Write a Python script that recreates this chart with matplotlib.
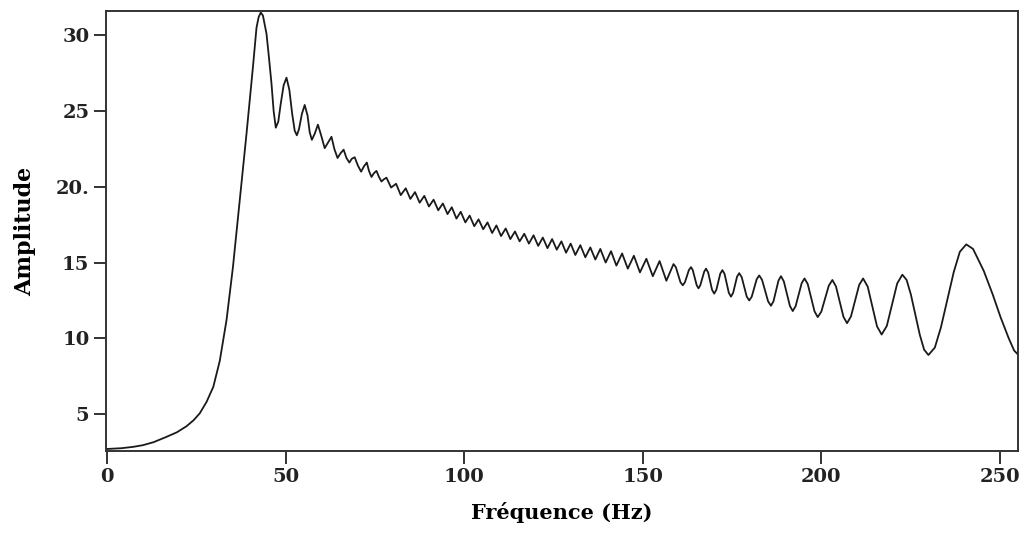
import matplotlib
matplotlib.use('Agg')
from matplotlib import pyplot as plt

# spectrum (Hz, amplitude)
freq = [0, 4, 7.3, 10, 13, 16.6, 19.5, 22.2, 24.2, 25.9, 27.8, 29.7, 31.5, 33.4, 35.2, 37.1,
        39.0, 40.8, 41.8, 42.4, 43.0, 43.6, 44.6, 45.3, 46.0, 46.6, 47.2, 47.9, 48.6, 49.4,
        50.2, 51.0, 51.8, 52.5, 53.1, 53.7, 54.5, 55.3, 56.1, 56.7, 57.3, 58.1, 59.0, 59.9,
        60.9, 61.8, 62.8, 63.6, 64.5, 65.3, 66.2, 67.0, 67.8, 68.5, 69.3, 70.2, 71.1, 71.9,
        72.7, 73.3, 74.0, 74.7, 75.4, 76.1, 76.8, 77.5, 78.2,
        79.5, 80.9, 82.2, 83.6, 84.9, 86.2, 87.5, 88.8, 90.1, 91.4, 92.7, 94.0, 95.3, 96.5,
        97.8, 99.0, 100.3, 101.5, 102.8, 104.0, 105.3, 106.5, 107.8, 109.0, 110.3,
        111.6, 112.9, 114.2, 115.5, 116.8, 118.1, 119.4, 120.7, 122.0, 123.3, 124.6, 125.9,
        127.2, 128.5, 129.8, 131.1, 132.5, 133.9, 135.3, 136.7, 138.1, 139.6, 141.1, 142.6,
        144.2, 145.8, 147.5, 149.2, 151.0, 152.8, 154.7, 156.6, 158.6,
        159.25, 160.55, 161.2, 161.8, 162.9, 163.5, 164.0, 165.1, 165.6, 166.1, 167.2, 167.7,
        168.3, 169.4, 170.0, 170.6, 171.7, 172.3, 172.9, 174.1, 174.7, 175.3, 176.4, 177.0,
        177.7, 179.1, 179.8, 180.5, 181.9, 182.6, 183.4, 185.1, 185.9, 186.6, 188.0, 188.7,
        189.5, 191.2, 192.0, 192.8, 194.5, 195.3, 196.2, 197.15, 198.1, 199.0, 200.0, 201.05,
        202.1, 203.1, 204.1, 205.15, 206.2, 207.2, 208.3, 209.45, 210.6, 211.7, 213.0, 214.3,
        215.6, 216.9, 218.35, 219.8, 221.25, 222.7, 223.9, 225.1, 226.35, 227.6, 228.8, 230.0,
        231.8, 233.5, 235.3, 237.1, 238.8, 240.6, 242.5, 245.5, 248.0, 250.2, 252.5, 254.0,
        255.0]
amp = [2.7, 2.75, 2.84, 2.95, 3.15, 3.5, 3.8, 4.2, 4.6, 5.05, 5.8, 6.8, 8.5, 11.2, 14.7, 19.1,
       23.5, 27.9, 30.5, 31.2, 31.5, 31.3, 30.1, 28.5, 26.8, 25.0, 23.9, 24.3, 25.5, 26.7,
       27.2, 26.4, 24.8, 23.7, 23.4, 23.8, 24.8, 25.4, 24.7, 23.6, 23.1, 23.5, 24.1, 23.4,
       22.55, 22.9, 23.3, 22.5, 21.9, 22.2, 22.45, 21.9, 21.6, 21.85, 21.95, 21.4, 21.0, 21.35,
       21.6, 21.05, 20.65, 20.9, 21.05, 20.65, 20.35, 20.5, 20.6,
       19.95, 20.2, 19.45, 19.9, 19.2, 19.65, 18.95, 19.4, 18.7, 19.15, 18.45, 18.9, 18.2, 18.65,
       17.9, 18.35, 17.65, 18.1, 17.4, 17.85, 17.2, 17.65, 16.95, 17.45, 16.75,
       17.25, 16.55, 17.05, 16.4, 16.9, 16.25, 16.8, 16.1, 16.65, 15.95, 16.55, 15.85,
       16.4, 15.65, 16.25, 15.5, 16.15, 15.35, 16.0, 15.2, 15.9, 15.0, 15.75, 14.8,
       15.6, 14.6, 15.45, 14.35, 15.25, 14.1, 15.1, 13.8, 14.9,
       14.7, 13.7, 13.5, 13.7, 14.5, 14.7, 14.5, 13.5, 13.3, 13.5, 14.4, 14.6,
       14.35, 13.2, 12.95, 13.2, 14.27, 14.5, 14.25, 13.0, 12.75, 13.0, 14.07, 14.3,
       14.04, 12.76, 12.5, 12.74, 13.9, 14.15, 13.86, 12.44, 12.15, 12.44, 13.81, 14.1,
       13.76, 12.14, 11.8, 12.12, 13.64, 13.95, 13.58, 12.68, 11.78, 11.4, 11.76, 12.62,
       13.48, 13.85, 13.43, 12.42, 11.42, 11.0, 11.44, 12.48, 13.52, 13.95, 13.41, 12.1,
       10.79, 10.25, 10.82, 12.22, 13.62, 14.2, 13.85, 12.88, 11.55, 10.22, 9.25, 8.9,
       9.39, 10.72, 12.55, 14.38, 15.71, 16.2, 15.9, 14.45, 12.9, 11.4, 10.0, 9.2,
       8.95]

x_ticks = [0, 50, 100, 150, 200, 250]
y_ticks = [5, 10, 15, 20, 25, 30]
y_tick_labels = ['5', '10', '15', '20.', '25', '30']

plt.rcParams['font.family'] = ['DejaVu Serif']

fig = plt.figure(figsize=(10.25, 5.37), dpi=100)
ax = fig.add_axes([0.1034, 0.160, 0.8898, 0.8195])

ax.plot(freq, amp, color='#1a1a1a', linewidth=1.3)

ax.set_xlim(-0.36, 255.1)
ax.set_ylim(2.56, 31.6)
ax.set_xticks(x_ticks)
ax.set_yticks(y_ticks)
ax.set_yticklabels(y_tick_labels)
ax.tick_params(direction='out', length=9, width=1.3, colors='#222222',
               labelsize=14, pad=3)
for lab in ax.get_xticklabels() + ax.get_yticklabels():
    lab.set_fontweight('bold')
for s in ax.spines.values():
    s.set_linewidth(1.4)
    s.set_color('#333333')

ax.set_xlabel('Fréquence (Hz)', fontsize=15, fontweight='bold', labelpad=12)
ax.set_ylabel('Amplitude', fontsize=16, fontweight='bold', labelpad=14)

fig.savefig('out.png', dpi=100)
